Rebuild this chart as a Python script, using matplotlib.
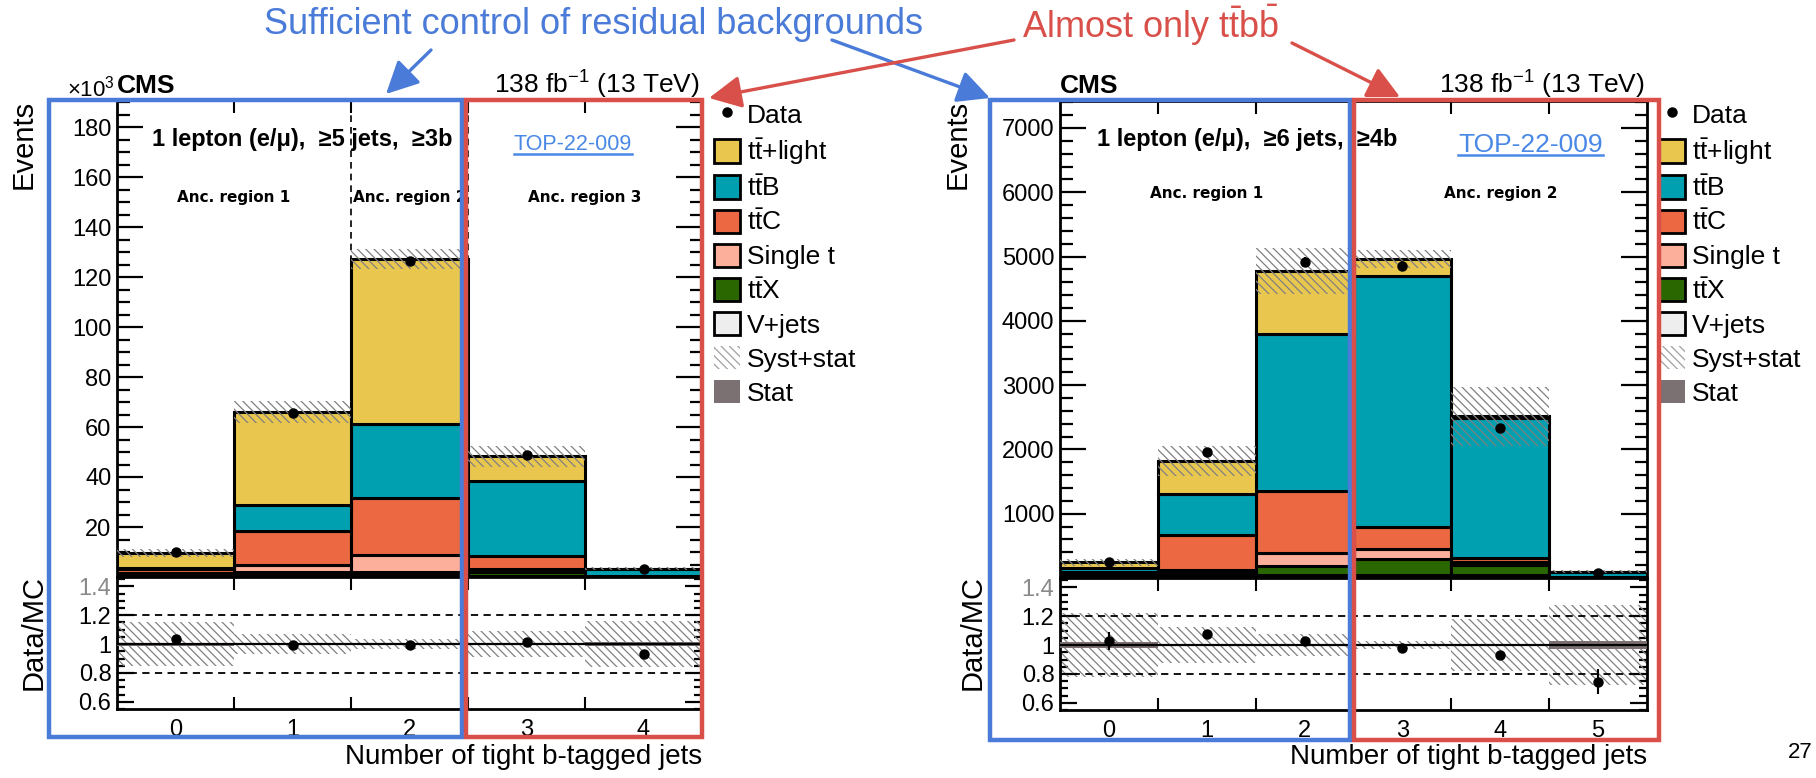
import numpy as np
import matplotlib

matplotlib.use("Agg")
import matplotlib.pyplot as plt
from matplotlib.patches import Rectangle, Patch, FancyArrowPatch
from matplotlib.lines import Line2D
from matplotlib.ticker import MultipleLocator

plt.rcParams["font.family"] = ["Liberation Sans", "DejaVu Sans"]
plt.rcParams["mathtext.fontset"] = "custom"
plt.rcParams["mathtext.rm"] = "Liberation Sans"
plt.rcParams["mathtext.it"] = "Liberation Sans:italic"
plt.rcParams["mathtext.bf"] = "Liberation Sans:bold"
plt.rcParams["hatch.linewidth"] = 0.9

# ---- >=5 jets, >=3b (events x 1e3) ----
nbtag_5j = ["0", "1", "2", "3", "4"]
vjets_5j = [0.3, 1.0, 0.9, 0.6, 0.05]
ttx_5j = [0.4, 0.9, 1.3, 1.3, 0.15]
singlet_5j = [0.8, 2.8, 6.5, 1.4, 0.1]
ttc_5j = [1.6, 13.7, 23.0, 5.1, 0.2]
ttb_5j = [0.7, 10.3, 29.4, 30.0, 2.6]
ttlight_5j = [5.8, 37.4, 66.1, 9.9, 0.2]
data_5j = [9.95, 65.8, 126.5, 49.0, 3.07]
syst_5j = [0.155, 0.067, 0.032, 0.088, 0.16]  # relative syst+stat
stat_5j = [0.010, 0.004, 0.003, 0.004, 0.012]  # relative MC stat

# ---- >=6 jets, >=4b (events) ----
nbtag_6j = ["0", "1", "2", "3", "4", "5"]
vjets_6j = [10, 30, 45, 47, 40, 3]
ttx_6j = [20, 43, 147, 244, 155, 10]
singlet_6j = [15, 52, 193, 161, 52, 4]
ttc_6j = [50, 545, 975, 347, 68, 5]
ttb_6j = [60, 633, 2441, 3894, 2180, 74]
ttlight_6j = [90, 519, 970, 271, 18, 2]
data_6j = [252, 1957, 4922, 4860, 2332, 73]
syst_6j = [0.22, 0.125, 0.075, 0.027, 0.18, 0.275]
stat_6j = [0.022, 0.006, 0.004, 0.004, 0.006, 0.025]

proc_names = [r"$\mathrm{t\bar{t}}$+light", r"$\mathrm{t\bar{t}B}$", r"$\mathrm{t\bar{t}C}$",
              "Single t", r"$\mathrm{t\bar{t}X}$", "V+jets"]
proc_colors = ["#e9c74f", "#00a0b1", "#eb6842", "#fcb09b", "#2a6700", "#eeeeee"]
hatch_col = "#808080"
stat_col = "#7b7072"
blue = "#4a7bd8"
red = "#d9504a"
link = "#4a88e6"

W, H = 1816, 778


def fx(px):
    return px / W


def fy(py):
    return 1 - py / H


def style_axes(ax, nbins, top):
    edges = np.arange(nbins - 1) + 0.5
    ax.set_xlim(-0.5, nbins - 0.5)
    for s in ax.spines.values():
        s.set_linewidth(2)
    ax.set_xticks(edges)
    ax.tick_params(axis="x", which="major", direction="in", length=9, width=1.5,
                   top=True, bottom=True, labelbottom=False)
    if top:
        ax.tick_params(axis="y", which="major", direction="in", length=19, width=1.6,
                       left=True, right=True, labelsize=17, pad=4)
        ax.tick_params(axis="y", which="minor", direction="in", length=9, width=1.6,
                       left=True, right=True)
    else:
        ax.tick_params(axis="y", which="major", direction="in", length=12, width=1.6,
                       left=True, right=True, labelsize=17, pad=4)
        ax.tick_params(axis="y", which="minor", direction="in", length=6, width=1.6,
                       left=True, right=True)


def draw_panel(ax, axr, comps, data, syst, stat, labels, scale):
    comps = [np.array(c, dtype=float) for c in comps]
    data = np.array(data, dtype=float)
    syst = np.array(syst)
    stat = np.array(stat)
    x = np.arange(len(data))
    bottom = np.zeros(len(x))
    # stack from the bottom: V+jets first, tt+light last
    for vals, col in zip(comps[::-1], proc_colors[::-1]):
        ax.bar(x, vals, bottom=bottom, width=1.0, color=col, edgecolor="black",
               linewidth=2.2, zorder=2)
        bottom = bottom + vals
    total = bottom
    ax.bar(x, 2 * syst * total, bottom=total * (1 - syst), width=1.0, facecolor="none",
           edgecolor=hatch_col, hatch="\\\\\\\\", linewidth=0, zorder=3)
    derr = np.sqrt(data * scale) / scale
    ax.errorbar(x, data, yerr=derr, fmt="o", color="black", ms=6.5, elinewidth=1.5,
                capsize=0, zorder=5)

    ratio = data / total
    axr.bar(x, 2 * syst, bottom=1 - syst, width=1.0, facecolor="none",
            edgecolor=hatch_col, hatch="\\\\\\\\", linewidth=0, zorder=2)
    axr.bar(x, 2 * stat, bottom=1 - stat, width=1.0, color=stat_col, linewidth=0, zorder=3)
    axr.axhline(1.0, color="black", lw=1.6, zorder=4)
    for yy in (0.8, 1.2):
        axr.axhline(yy, color="black", lw=1.3, ls=(0, (4, 3)), zorder=4)
    axr.errorbar(x, ratio, yerr=derr / total, fmt="o", color="black", ms=6.5,
                 elinewidth=1.5, capsize=0, zorder=5)

    style_axes(ax, len(x), True)
    style_axes(axr, len(x), False)
    axr.set_ylim(0.55, 1.465)
    axr.set_yticks([0.6, 0.8, 1.0, 1.2, 1.4])
    axr.set_yticklabels(["0.6", "0.8", "1", "1.2", "1.4"])
    axr.get_yticklabels()[-1].set_color("#8a8a8a")
    axr.yaxis.set_minor_locator(MultipleLocator(0.05))
    axr.set_xticks(x, minor=True)
    axr.set_xticklabels(labels, minor=True)
    axr.tick_params(axis="x", which="minor", length=0, labelsize=17, pad=7)


fig = plt.figure(figsize=(W / 100, H / 100), dpi=100)

ax_l = fig.add_axes([fx(117), fy(577), (702 - 117) / W, (577 - 100) / H])
ax_lr = fig.add_axes([fx(117), fy(709), (702 - 117) / W, (709 - 577) / H])
ax_r = fig.add_axes([fx(1060), fy(578), (1647 - 1060) / W, (578 - 101) / H])
ax_rr = fig.add_axes([fx(1060), fy(710), (1647 - 1060) / W, (710 - 578) / H])

draw_panel(ax_l, ax_lr, [ttlight_5j, ttb_5j, ttc_5j, singlet_5j, ttx_5j, vjets_5j],
           data_5j, syst_5j, stat_5j, nbtag_5j, 1000.0)
draw_panel(ax_r, ax_rr, [ttlight_6j, ttb_6j, ttc_6j, singlet_6j, ttx_6j, vjets_6j],
           data_6j, syst_6j, stat_6j, nbtag_6j, 1.0)

ax_l.set_ylim(0, 190.8)
ax_l.set_yticks(np.arange(20, 181, 20))
ax_l.yaxis.set_minor_locator(MultipleLocator(5))
ax_r.set_ylim(0, 7420)
ax_r.set_yticks(np.arange(1000, 7001, 1000))
ax_r.yaxis.set_minor_locator(MultipleLocator(200))

# region separators
for xx in (1.5, 2.5):
    ax_l.axvline(xx, color="black", lw=1.2, ls=(0, (4, 3)), zorder=1)
ax_r.axvline(2.5, color="black", lw=1.2, ls=(0, (4, 3)), zorder=1)

reg = dict(fontsize=11, fontweight="bold", family="DejaVu Sans", ha="center", va="center")
ax_l.text(0.5, 0.795, "Anc. region 1", **reg)
ax_l.text(2.0, 0.795, "Anc. region 2", **reg)
ax_l.text(3.5, 0.795, "Anc. region 3", **reg)
ax_r.text(1.0, 0.807, "Anc. region 1", **reg)
ax_r.text(4.0, 0.807, "Anc. region 2", **reg)
for t in ax_l.texts + ax_r.texts:
    t.set_transform(t.axes.get_xaxis_transform())

sel = dict(fontsize=17, fontweight="bold", ha="left", va="center")
ax_l.text(-0.2, 0.918, "1 lepton (e/\u03bc),  \u22655 jets,  \u22653b",
          transform=ax_l.get_xaxis_transform(), **sel)
ax_r.text(-0.12, 0.92, "1 lepton (e/\u03bc),  \u22656 jets,  \u22654b",
          transform=ax_r.get_xaxis_transform(), **sel)

# CMS labels and luminosity
fig.text(fx(117), fy(86), "CMS", fontsize=19, fontweight="bold", ha="left", va="center")
fig.text(fx(115), fy(89), "\u00d710$^{3}$", fontsize=16, ha="right", va="center")
fig.text(fx(1060), fy(86), "CMS", fontsize=19, fontweight="bold", ha="left", va="center")
for xr in (700, 1645):
    fig.text(fx(xr), fy(85), "138 fb$^{-1}$ (13 TeV)", fontsize=19, ha="right", va="center")

# axis titles
for xe in (24, 958):
    fig.text(fx(xe), fy(100), "Events", rotation=90, fontsize=21, ha="center", va="top")
for xd in (34, 973):
    fig.text(fx(xd), fy(633), "Data/MC", rotation=90, fontsize=21, ha="center", va="center")
for xr in (702, 1647):
    fig.text(fx(xr), fy(757), "Number of tight b-tagged jets", fontsize=20,
             ha="right", va="center")

# legends
handles = [Line2D([], [], marker="o", ls="none", color="black", ms=6.5)]
handles += [Patch(facecolor=c, edgecolor="black", linewidth=2) for c in proc_colors]
handles += [Patch(facecolor="white", edgecolor="#a0a0a0", hatch="\\\\\\\\", linewidth=0),
            Patch(facecolor=stat_col, linewidth=0)]
leg_labels = ["Data"] + proc_names + ["Syst+stat", "Stat"]
for ax, xl in ((ax_l, 714), (ax_r, 1659)):
    ax.legend(handles, leg_labels, loc="upper left", bbox_to_anchor=(fx(xl), fy(102)),
              bbox_transform=fig.transFigure, frameon=False, fontsize=19,
              handlelength=1.0, handleheight=1.0, handletextpad=0.25,
              labelspacing=0.31, borderpad=0, borderaxespad=0)

# TOP-22-009 links
links = [fig.text(fx(514), fy(145), "TOP-22-009", fontsize=15.5, color=link,
                  ha="left", va="center"),
         fig.text(fx(1458), fy(145), "TOP-22-009", fontsize=19, color=link,
                  ha="left", va="center")]

# highlight boxes
boxes = [(49, 100, 462, 737, blue), (466, 100, 702, 737, red),
         (990, 100, 1350, 740, blue), (1354, 100, 1659, 740, red)]
for x0, y0, x1, y1, col in boxes:
    fig.add_artist(Rectangle((fx(x0), fy(y1)), (x1 - x0) / W, (y1 - y0) / H,
                             transform=fig.transFigure, fill=False, edgecolor=col,
                             linewidth=3.2, zorder=10))

# callouts
fig.text(fx(264), fy(25), "Sufficient control of residual backgrounds", fontsize=26,
         color=blue, ha="left", va="center")
fig.text(fx(1022), fy(25), r"Almost only $\mathrm{t\bar{t}b\bar{b}}$", fontsize=26,
         color=red, ha="left", va="center")
arrows = [((431, 50), (386, 94), blue), ((832, 40), (990, 98), blue),
          ((1014, 40), (709, 98), red), ((1292, 43), (1400, 97), red)]
for (xa, ya), (xb, yb), col in arrows:
    fig.add_artist(FancyArrowPatch((fx(xa), fy(ya)), (fx(xb), fy(yb)),
                                   transform=fig.transFigure, color=col, lw=2.4,
                                   arrowstyle="-|>,head_length=0.9,head_width=0.45",
                                   mutation_scale=22, shrinkA=0, shrinkB=0, zorder=11))

fig.text(fx(1788), fy(753), "27", fontsize=16, ha="left", va="center")

# underline the links
fig.canvas.draw()
rend = fig.canvas.get_renderer()
for t in links:
    bb = t.get_window_extent(rend).transformed(fig.transFigure.inverted())
    fig.add_artist(Line2D([bb.x0, bb.x1], [bb.y0 + 0.002, bb.y0 + 0.002],
                          transform=fig.transFigure, color=link, lw=1.8))

fig.savefig("out.png", dpi=100)
